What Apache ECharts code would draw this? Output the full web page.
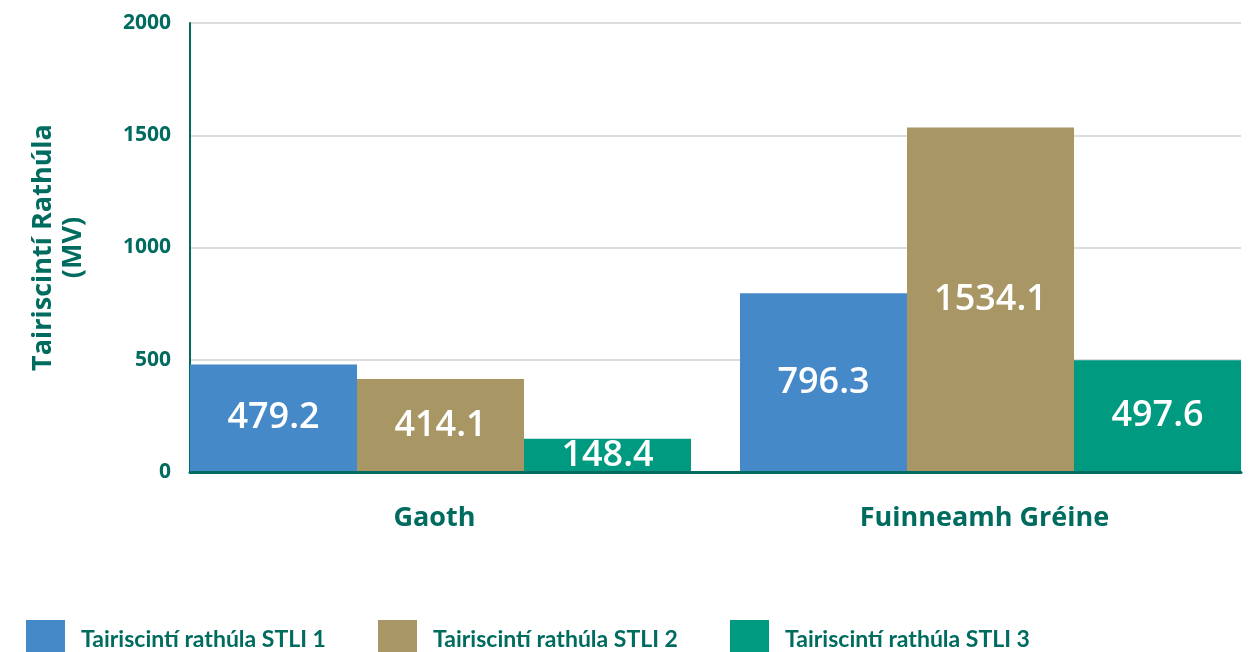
<!DOCTYPE html>
<html>
<head>
<meta charset="utf-8">
<script src="https://cdn.jsdelivr.net/npm/echarts@6/dist/echarts.min.js"></script>
<style>
  html, body { margin: 0; padding: 0; background: #fff; overflow: hidden; }
  /* a little wider than the window: the last bars' band runs past the right edge */
  #chart { width: 1280px; height: 652px; }
</style>
</head>
<body>
<div id="chart"></div>
<script>
  // data
  const categories = ["Gaoth", "Fuinneamh Gréine"];
  const seriesNames = [
    "Tairiscintí rathúla STLI 1",
    "Tairiscintí rathúla STLI 2",
    "Tairiscintí rathúla STLI 3",
  ];
  const stli1 = [479.2, 796.3];
  const stli2 = [414.1, 1534.1];
  const stli3 = [148.4, 497.6];
  const yTicks = [0, 500, 1000, 1500, 2000];

  const colors = ["#4589c8", "#a89764", "#009a80"];
  const textColor = "#006b5f";
  const font = "Open Sans";

  const chart = echarts.init(document.getElementById("chart"));

  const barSeries = [stli1, stli2, stli3].map((values, i) => ({
    name: seriesNames[i],
    type: "bar",
    xAxisIndex: 0,
    yAxisIndex: 0,
    data: values,
    barGap: "0%",
    barWidth: 167,
    itemStyle: { color: colors[i] },
    label: {
      show: true,
      position: "inside",
      color: "#fff",
      fontFamily: font,
      fontSize: 36,
      fontWeight: 600,
      formatter: (p) => p.value.toFixed(1),
    },
  }));

  // one small legend per series so each sits where the reference has it
  const legendLefts = [26, 378, 730];
  const legends = seriesNames.map((name, i) => ({
    data: [name],
    left: legendLefts[i],
    top: 620,
    padding: 0,
    itemWidth: 39,
    itemHeight: 40,
    icon: "rect",
    selectedMode: false,
    textStyle: {
      color: textColor,
      fontFamily: "Lato",
      fontSize: 23,
      fontWeight: "bold",
      padding: [0, 0, 0, 11],
    },
  }));

  const options = {
    animation: false,
    legend: legends,
    grid: [
      // bars: a bit wider than the drawn axes, like the reference
      { left: 165.5, width: 1100, top: 23, bottom: 180 },
      // visible axes and grid lines
      { left: 190, width: 1051, top: 23, bottom: 180 },
    ],
    xAxis: [
      {
        type: "category",
        gridIndex: 0,
        data: categories,
        axisLine: { show: false },
        axisTick: { show: false },
        axisLabel: {
          color: textColor,
          fontFamily: font,
          fontSize: 27,
          fontWeight: "bold",
          margin: 33,
          padding: [0, 12, 0, 0],
        },
      },
      {
        type: "value",
        gridIndex: 1,
        min: 0,
        max: 1,
        z: 5,
        axisLine: { show: true, lineStyle: { color: textColor, width: 3 } },
        axisTick: { show: false },
        axisLabel: { show: false },
        splitLine: { show: false },
      },
    ],
    yAxis: [
      {
        type: "value",
        gridIndex: 0,
        min: yTicks[0],
        max: yTicks[yTicks.length - 1],
        show: false,
      },
      {
        type: "value",
        gridIndex: 1,
        min: yTicks[0],
        max: yTicks[yTicks.length - 1],
        interval: yTicks[1] - yTicks[0],
        name: "Tairiscintí Rathúla\n(MV)",
        nameLocation: "middle",
        nameRotate: 90,
        nameGap: 102,
        nameTextStyle: {
          color: textColor,
          fontFamily: font,
          fontSize: 27,
          fontWeight: "bold",
          lineHeight: 30,
        },
        axisLine: { show: true, lineStyle: { color: textColor, width: 2 } },
        axisTick: { show: false },
        axisLabel: {
          color: textColor,
          fontFamily: font,
          fontSize: 21,
          fontWeight: "bold",
          margin: 19,
          formatter: (v) => String(v),
        },
        splitLine: { lineStyle: { color: "#dcdcdc", width: 2 } },
      },
    ],
    series: barSeries,
  };

  chart.setOption(options);
</script>
</body>
</html>
